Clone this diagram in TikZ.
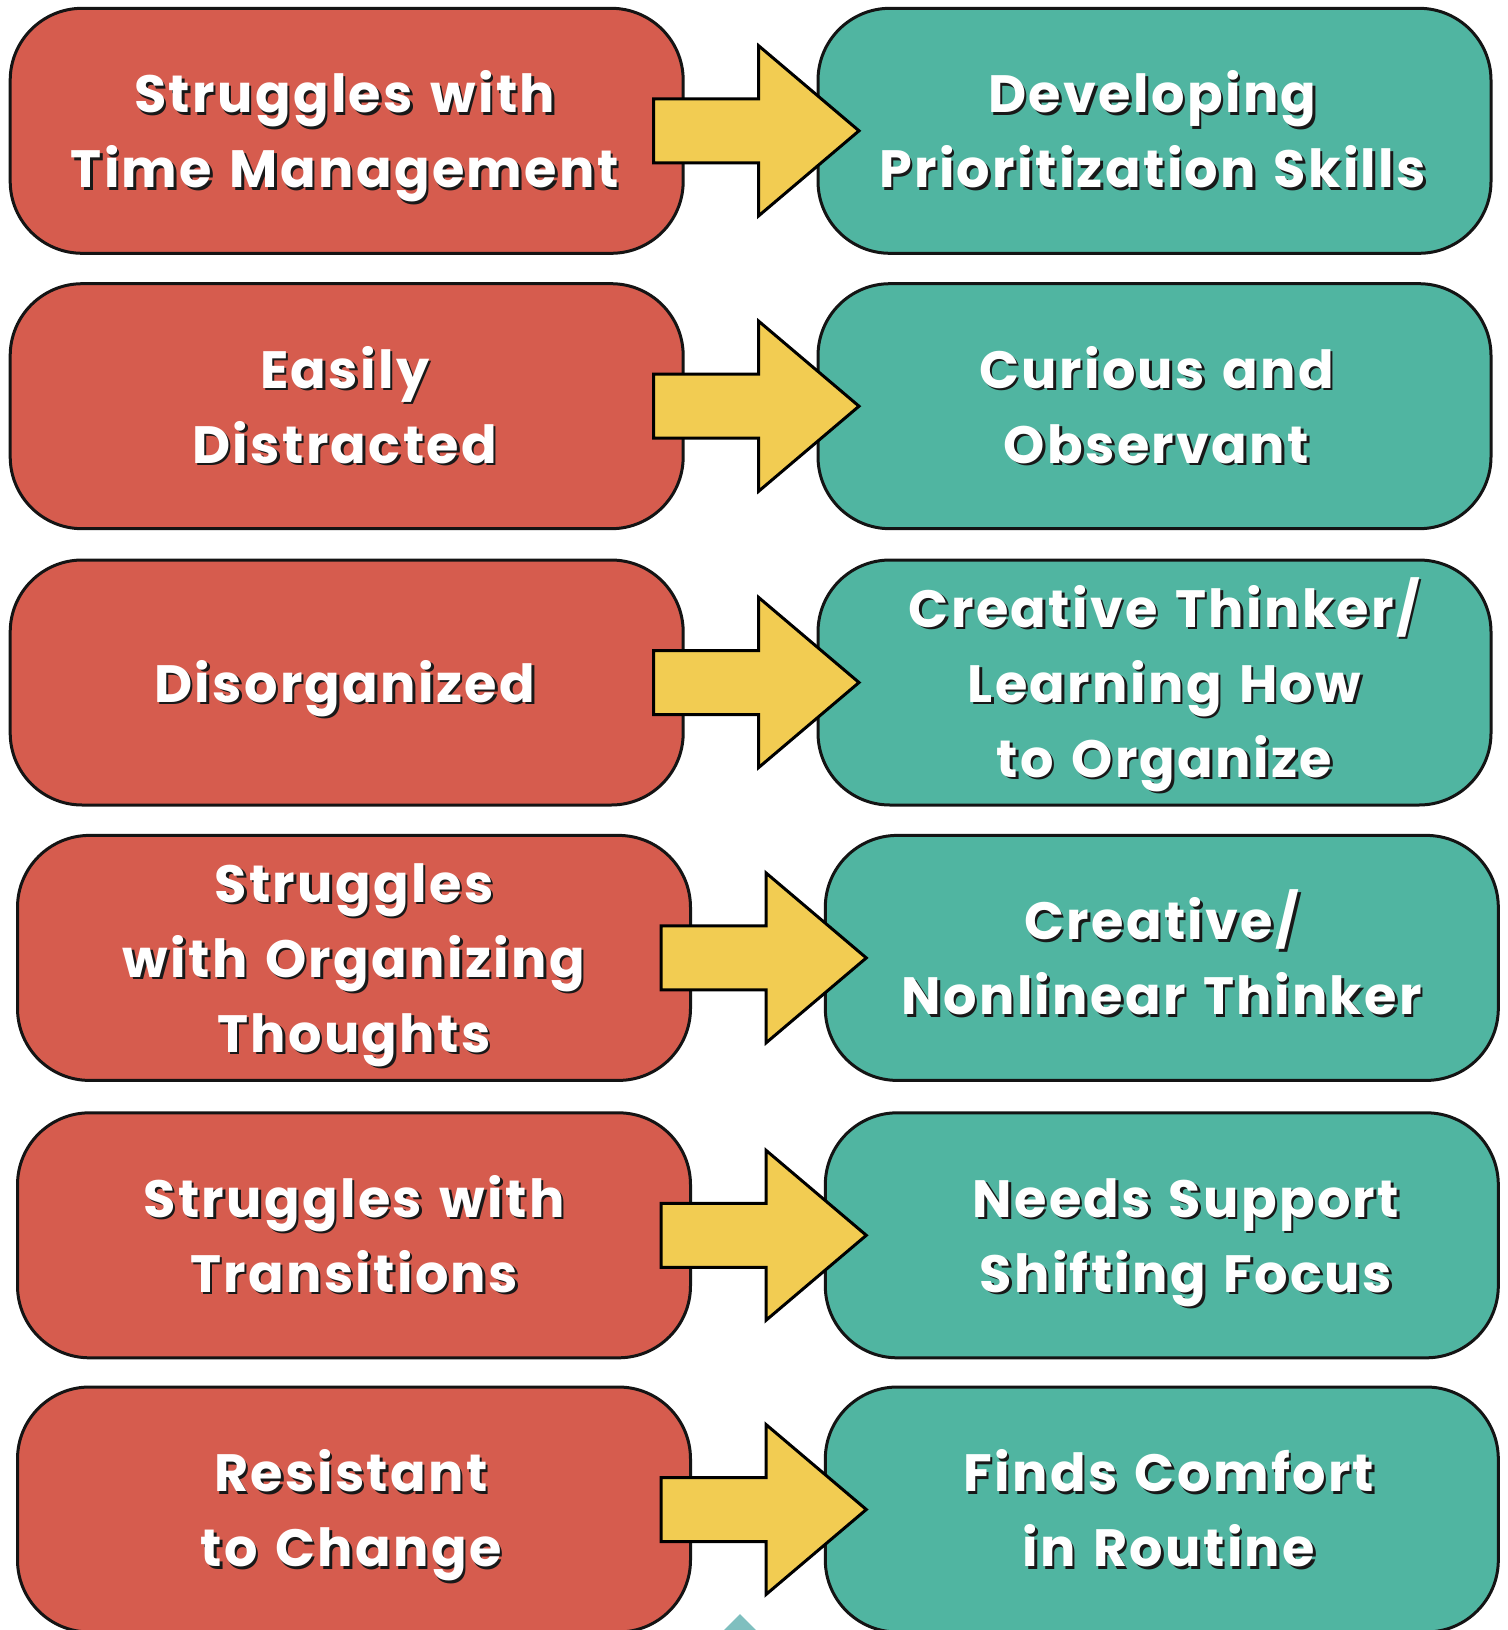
\documentclass[tikz,border=0pt]{standalone}
\usepackage{fontspec}
\setmainfont{Poppins}[LetterSpace=4.5, WordSpace=1.3]
\usetikzlibrary{calc}
\definecolor{cred}{HTML}{D65C4E}
\definecolor{cteal}{HTML}{50B5A1}
\definecolor{cyel}{HTML}{F2CC52}
\definecolor{ctri}{HTML}{7FBFBF}
\newcommand\ls{\rule[-18pt]{0pt}{73pt}}
\tikzset{
  boxbase/.style={draw=black!92, line width=3pt, rounded corners=72pt, minimum width=673pt, minimum height=245pt, inner sep=0pt, outer sep=0pt},
  redbox/.style={boxbase, fill=cred},
  tealbox/.style={boxbase, fill=cteal},
  txtbase/.style={align=center, font=\fontsize{52.5}{75}\selectfont\bfseries, inner sep=0pt},
  shadowtxt/.style={txtbase, text=black!90},
  maintxt/.style={txtbase, text=white},
  blockarrow/.style={draw=black, fill=cyel, line width=3pt, line join=miter},
}
\newcommand\rowpair[7]{%
  \node[redbox] (r#1) at (346.7+#2, #3+122.5) {};
  \node[tealbox] (t#1) at (1154.5+#2, #3+122.5) {};
  \node[shadowtxt] (rs#1) at ([shift={(#6+2.5,3.5)}]r#1.center) {#4};
  \node[maintxt] (rt#1) at ([shift={(#6,1)}]r#1.center) {#4};
  \filldraw[blockarrow] ([shift={(-29.5,-32)}]r#1.east) -- ([shift={(75.5,-32)}]r#1.east) -- ([shift={(75.5,-85)}]r#1.east) -- ([shift={(41,0)}]t#1.west) -- ([shift={(75.5,85)}]r#1.east) -- ([shift={(75.5,32)}]r#1.east) -- ([shift={(-29.5,32)}]r#1.east) -- cycle;
  \node[shadowtxt] (ts#1) at ([shift={(#7+2.5,3.5)}]t#1.center) {#5};
  \node[maintxt] (tt#1) at ([shift={(#7,1)}]t#1.center) {#5};
}
\begin{document}
\begin{tikzpicture}[x=1pt,y=-1pt]
\useasboundingbox (0,0) rectangle (1507,1630);
\clip (0,0) rectangle (1507,1630);
\fill[white] (0,0) rectangle (1507,1630);
\rowpair{1}{0}{8.3}{\ls Struggles with\\\ls Time Management}{\ls Developing\\\ls Prioritization Skills}{-2}{-2}
\rowpair{2}{0}{283.7}{\ls Easily\\\ls Distracted}{\ls Curious and\\\ls Observant}{-2}{2}
\rowpair{3}{0}{560}{\ls Disorganized}{\ls Creative Thinker/\\\ls Learning How\\\ls to Organize}{-2}{10}
\rowpair{4}{7.3}{835.4}{\ls Struggles\\\ls with Organizing\\\ls Thoughts}{\ls Creative/\\\ls Nonlinear Thinker}{0}{0}
\rowpair{5}{7.3}{1112.8}{\ls Struggles with\\\ls Transitions}{\ls Needs Support\\\ls Shifting Focus}{0}{24}
\rowpair{6}{7.3}{1387}{\ls Resistant\\\ls to Change}{\ls Finds Comfort\\\ls in Routine}{-3}{7}
\fill[ctri] (724,1630) -- (740,1614) -- (756,1630) -- cycle;
\end{tikzpicture}
\end{document}
